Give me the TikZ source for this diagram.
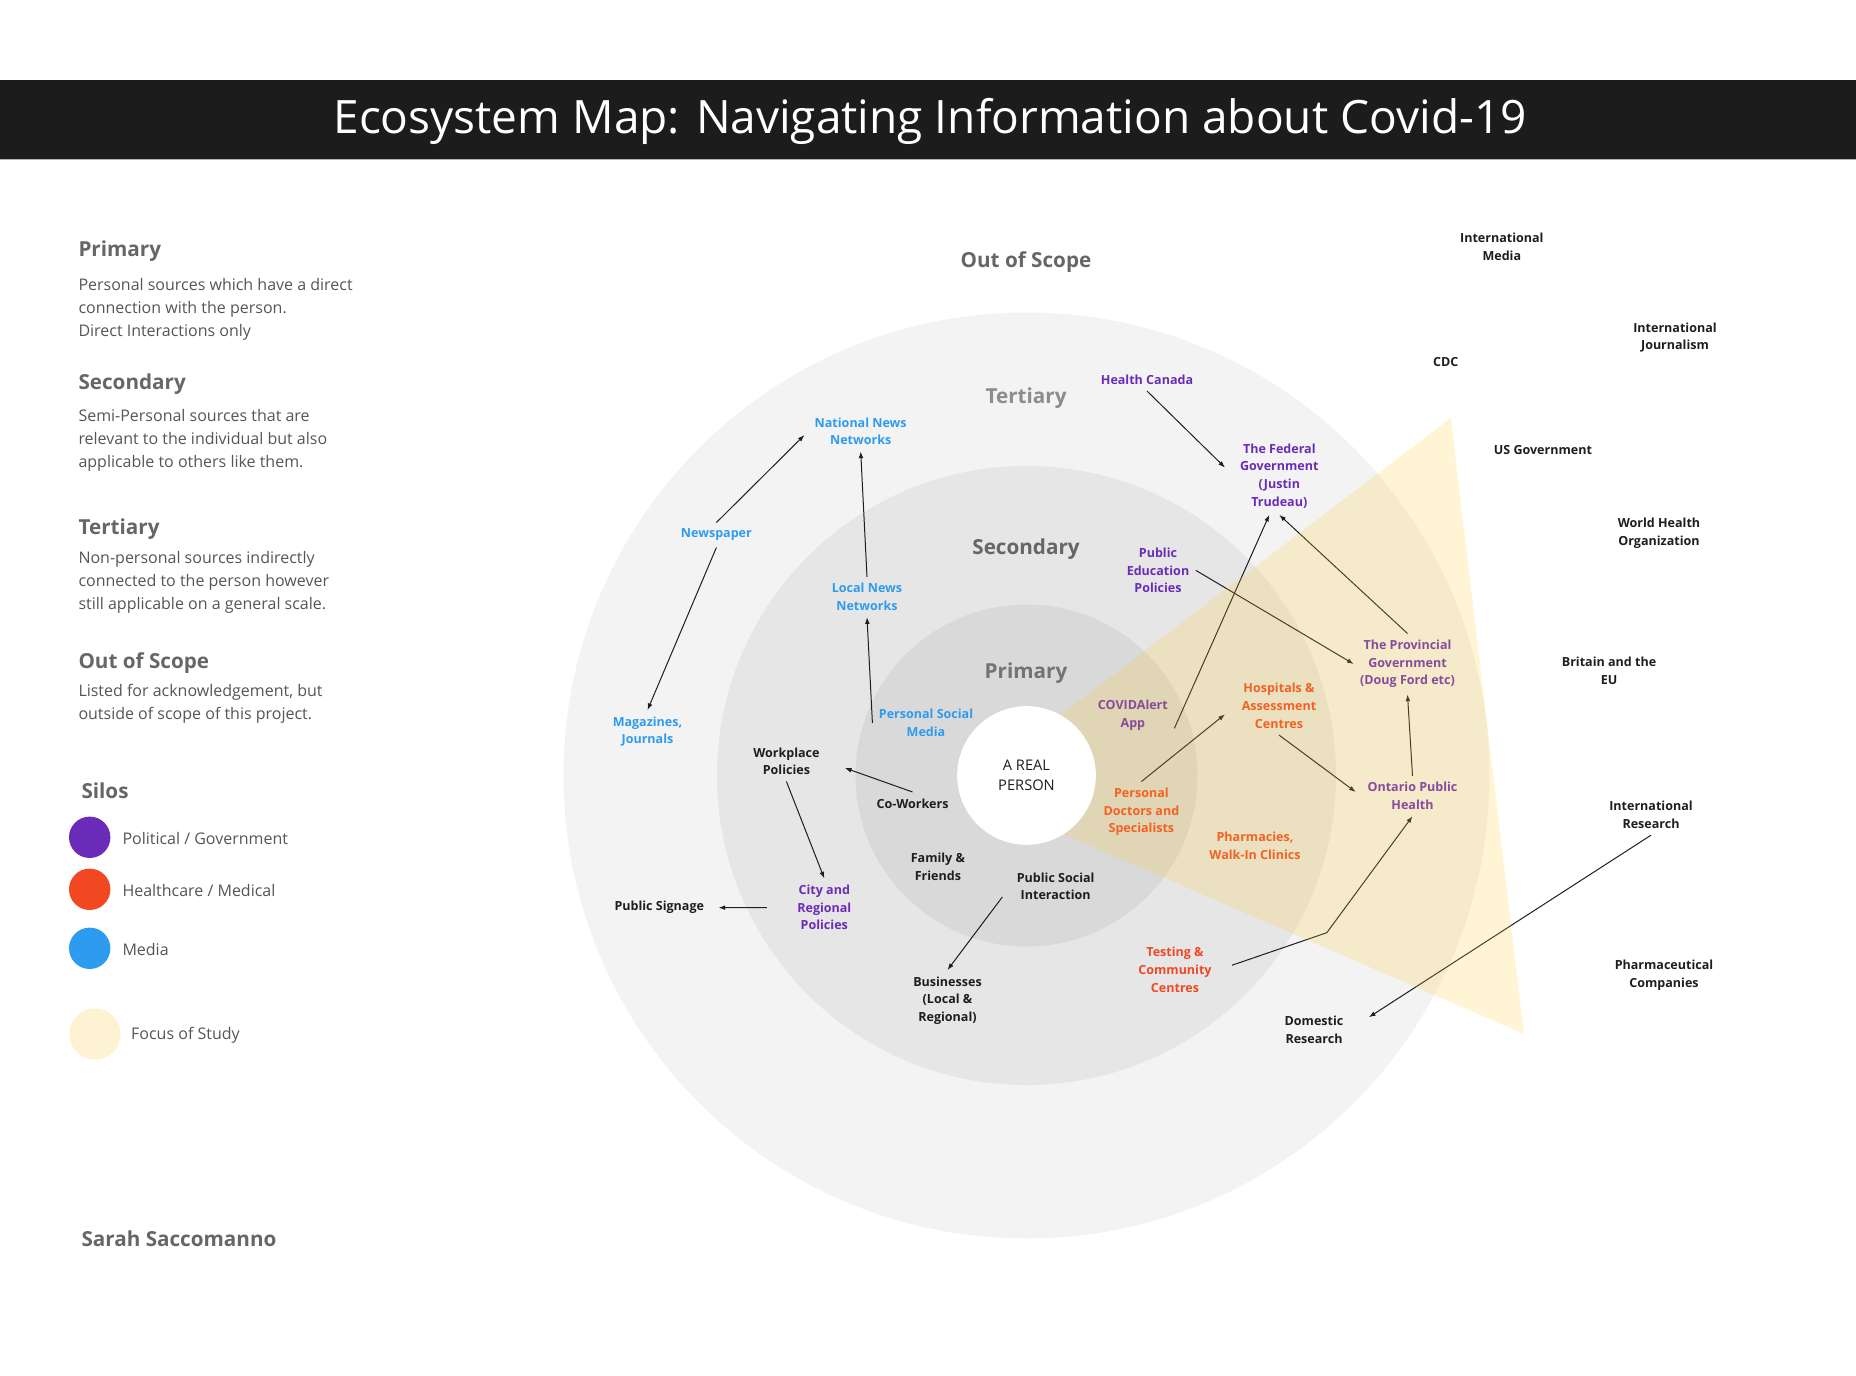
\documentclass[tikz,border=0pt]{standalone}
\usepackage{fontspec}
\setmainfont{Open Sans}
\usetikzlibrary{arrows.meta}

\definecolor{barInk}{RGB}{28,28,28}
\definecolor{inkDark}{RGB}{30,30,30}
\definecolor{headGray}{RGB}{102,102,102}
\definecolor{bodyGray}{RGB}{85,85,85}
\definecolor{govPurple}{RGB}{106,44,184}
\definecolor{medRed}{RGB}{242,72,34}
\definecolor{mediaBlue}{RGB}{45,156,240}
\definecolor{focusPale}{RGB}{253,243,211}
\definecolor{focusYellow}{RGB}{255,200,40}
\definecolor{ringOuter}{RGB}{243,243,243}
\definecolor{ringMid}{RGB}{230,230,230}
\definecolor{ringInner}{RGB}{217,217,217}

\tikzset{every picture/.style={line width=0.75pt}}
\tikzset{
  tag/.style={font=\fontsize{9.4}{13.3}\selectfont\bfseries, align=center, inner sep=4.5pt},
  gov/.style={tag, text=govPurple},
  med/.style={tag, text=medRed},
  media/.style={tag, text=mediaBlue},
  plain/.style={tag, text=inkDark},
  ringname/.style={font=\fontsize{15.5}{18}\selectfont\bfseries, text=headGray},
  keyhead/.style={font=\fontsize{15.5}{18}\selectfont\bfseries, text=headGray, anchor=west, inner sep=0pt},
  keybody/.style={font=\fontsize{12}{17.3}\selectfont, text=bodyGray, anchor=west, align=left, inner sep=0pt},
  link/.style={draw=inkDark, -{Latex[length=5pt,width=3.6pt]}},
}

\begin{document}
\begin{tikzpicture}[x=0.75pt,y=0.75pt,yscale=-1,xscale=1]
\useasboundingbox (0,0) rectangle (1856,1376);

%Title bar
\fill [barInk] (0,80) rectangle (1856,159);
\draw [color=black!30, line width=1pt] (0,159.5) -- (1856,159.5);
\node (title) [anchor=base, inner sep=0pt, text=white, font=\fontsize{34.5}{40}\selectfont] at (930,134) {Ecosystem Map: Navigating Information about Covid-19};

% Legend
\node (kprim) [keyhead] at (78,251) {Primary};
\node (kprimtxt) [keybody] at (78,309) {Personal sources which have a direct\\connection with the person.\\Direct Interactions only};
\node (ksec) [keyhead] at (78,384) {Secondary};
\node (ksectxt) [keybody] at (78,440) {Semi-Personal sources that are\\relevant to the individual but also\\applicable to others like them.};
\node (kter) [keyhead] at (78,529) {Tertiary};
\node (ktertxt) [keybody] at (78,582) {Non-personal sources indirectly\\connected to the person however\\still applicable on a general scale.};
\node (koos) [keyhead] at (78,663) {Out of Scope};
\node (koostxt) [keybody] at (78,704) {Listed for acknowledgement, but\\outside of scope of this project.};

\node (ksilos) [keyhead] at (81,791) {Silos};
%Shape: Circle
\fill [govPurple] (89.7,837.3) circle (20.7);
\node (kgov) [keybody] at (122,838) {Political / Government};
%Shape: Circle
\fill [medRed] (89.7,889.3) circle (20.7);
\node (kmed) [keybody] at (122,890) {Healthcare / Medical};
%Shape: Circle
\fill [mediaBlue] (89.7,948.3) circle (20.7);
\node (kmedia) [keybody] at (122,949) {Media};
%Shape: Circle
\fill [focusPale] (95,1034) circle (25.7);
\node (kfocus) [keybody] at (130.7,1035) {Focus of Study};

\node (author) [keyhead] at (81,1239) {Sarah Saccomanno};

%Rings
\fill [ringOuter] (1026.5,775.5) circle (463);
\fill [ringMid] (1026.5,775.5) circle (309.5);
\fill [ringInner] (1026.5,775.5) circle (171);

% Ring names
\node (oos) [ringname] at (1026,262.5) {Out of Scope};
\node (ter) [ringname, text=black!45] at (1026,398.5) {Tertiary};
\node (sec) [ringname] at (1026,549) {Secondary};
\node (pri) [ringname, text=black!55] at (1026,673.5) {Primary};

% Media silo
\node (natl) [media] at (860.7,431.3) {National News\\Networks};
\node (news) [media] at (716.4,535) {Newspaper};
\node (local) [media] at (867,597) {Local News\\Networks};
\node (mag) [media] at (647.5,731.5) {Magazines,\\Journals};
\node (psm) [media] at (926,723) {Personal Social\\Media};

% Everyday contacts
\node (work) [plain] at (786.4,761.3) {Workplace\\Policies};
\node (cow) [plain] at (912.5,803.3) {Co-Workers};
\node (fam) [plain] at (937.9,866.7) {Family \&\\Friends};
\node (psi) [plain] at (1055.7,886.3) {Public Social\\Interaction};
\node (sign) [plain] at (659.3,907.7) {Public Signage};
\node (bus) [plain] at (947.5,1000.5) {Businesses\\(Local \&\\Regional)};
\node (city) [gov] at (824.3,907.5) {City and\\Regional\\Policies};

% Government and health silos
\node (hc) [gov] at (1147,379.7) {Health Canada};
\node (fed) [gov] at (1279.3,476) {The Federal\\Government\\(Justin\\Trudeau)};
\node (pep) [gov] at (1158,570.3) {Public\\Education\\Policies};
\node (prov) [gov] at (1407.5,664) {The Provincial\\Government\\(Doug Ford etc)};
\node (covid) [gov] at (1132.9,715) {COVIDAlert\\App};
\node (oph) [gov] at (1412.5,796) {Ontario Public\\Health};
\node (hosp) [med] at (1279,706) {Hospitals \&\\Assessment\\Centres};
\node (doc) [med] at (1141.4,812) {Personal\\Doctors and\\Specialists};
\node (pharm) [med] at (1255,846) {Pharmacies,\\Walk-In Clinics};
\node (test) [med] at (1175,970) {Testing \&\\Community\\Centres};
\node (dom) [plain] at (1314,1029.5) {Domestic\\Research};

% Out of scope
\node (intmed) [plain] at (1501.8,246.5) {International\\Media};
\node (intjour) [plain] at (1675,337.5) {International\\Journalism};
\node (cdc) [plain] at (1445.7,361.7) {CDC};
\node (usgov) [plain] at (1542.9,450) {US Government};
\node (who) [plain] at (1659,533) {World Health\\Organization};
\node (eu) [plain] at (1609,671) {Britain and the\\EU};
\node (intres) [plain] at (1651,815) {International\\Research};
\node (pharma) [plain] at (1664,975) {Pharmaceutical\\Companies};

\coordinate (testbend) at (1326.8,932.7);

%Straight Lines
\draw [link, shorten >=4pt] (news.north) -- (natl.west);
\draw [link] (news.south) -- (mag.north);
\draw [link] (local.north) -- (natl.south);
\draw [link] (psm.west) -- (local.south);
\draw [link, shorten >=15pt] (cow.north) -- (work.east);
\draw [link] (work.south) -- (city.north);
\draw [link, shorten <=18pt, shorten >=6pt] (city.west) -- (sign.east);
\draw [link, shorten <=10pt] (psi.west) -- (bus.north);
\draw [link, shorten >=9pt] (hc.south) -- (fed.west);
\draw [link] ([yshift=10pt]covid.east) -- ([xshift=-7.5pt]fed.south);
\draw [link] (prov.north) -- (fed.south);
\draw [link] (pep.east) -- (prov.west);
\draw [link, shorten >=10pt] (doc.north) -- (hosp.west);
\draw [link, shorten >=5pt] (hosp.south) -- (oph.west);
\draw [link] (oph.north) -- (prov.south);
\draw [link, shorten <=11pt] (test.east) -- (testbend) -- (oph.south);
\draw [link, shorten >=17pt] (intres.south) -- (dom.east);

%Focus of study
\fill [focusYellow, fill opacity=0.2] (962,790) -- (1450.7,418) -- (1524,1034) -- cycle;

%Flowchart: Connector
\node (person) [circle, fill=white, minimum size=104pt, inner sep=0pt, align=center, text=inkDark, font=\fontsize{11}{15}\selectfont] at (1026.5,775.5) {A REAL\\PERSON};

\end{tikzpicture}
\end{document}
